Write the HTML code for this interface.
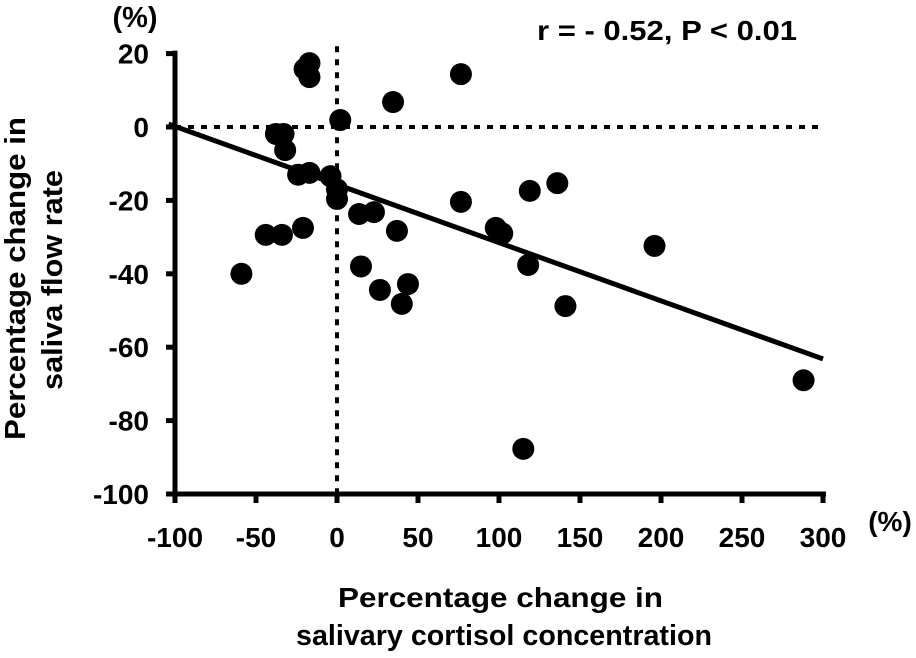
<!DOCTYPE html>
<html><head><meta charset="utf-8"><style>
body{margin:0;background:#fff}
text{font-family:"Liberation Sans",Arial,sans-serif;font-weight:bold;fill:#000}
</style></head><body>
<svg width="916" height="653" id="c">
<text x="135" y="27" font-size="29" text-anchor="middle">(%)</text>
<text x="890" y="531" font-size="28" text-anchor="middle">(%)</text>
<text x="537" y="40" font-size="28" textLength="260" lengthAdjust="spacingAndGlyphs">r = - 0.52, P &lt; 0.01</text>
<text x="338" y="607" font-size="28" textLength="325" lengthAdjust="spacingAndGlyphs">Percentage change in</text>
<text x="296" y="645" font-size="29" textLength="416" lengthAdjust="spacingAndGlyphs">salivary cortisol concentration</text>
<text transform="translate(25,440) rotate(-90)" font-size="29" textLength="323" lengthAdjust="spacingAndGlyphs">Percentage change in</text>
<text transform="translate(62,390) rotate(-90)" font-size="29" textLength="220" lengthAdjust="spacingAndGlyphs">saliva flow rate</text>
</svg>
<script>
const xTicks=[-100,-50,0,50,100,150,200,250,300];
const yTicks=[20,0,-20,-40,-60,-80,-100];
const xs=[-17,-20,-17,34.6,2,76.5,-37.7,-33,-32,-24,-17,-4,0,0,-21,-44,-34,-59,13.6,22.8,37,14.8,26.5,43.8,40,76.5,98,102,119,136,118,141,196,288,115];
const ys=[17.4,15.8,13.6,6.8,1.9,14.4,-1.9,-1.9,-6.3,-13,-12.5,-13.4,-17,-19.6,-27.5,-29.4,-29.4,-40,-23.7,-23.2,-28.3,-38,-44.4,-42.8,-48.2,-20.4,-27.5,-29,-17.4,-15.3,-37.6,-48.8,-32.4,-69,-87.7];
const fitX=[-104,300];
const fitY=[0.8,-63.2];
const NS="http://www.w3.org/2000/svg";
const svg=document.getElementById('c');
const X=v=>337+(v)*1.62;
const Y=v=>127-(v)*3.67;
function mk(t,a){const e=document.createElementNS(NS,t);for(const k in a)e.setAttribute(k,a[k]);svg.appendChild(e);return e;}
let e;
e=mk('line',{x1:X(-100),y1:Y(0),x2:X(300),y2:Y(0),stroke:'#000','stroke-width':4,'stroke-dasharray':'6 7'});


e=mk('line',{x1:X(0),y1:Y(22),x2:X(0),y2:Y(-100),stroke:'#000','stroke-width':4,'stroke-dasharray':'6 7'});


e=mk('line',{x1:X(-100),y1:Y(20)-3,x2:X(-100),y2:Y(-100)+2,stroke:'#000','stroke-width':5});


e=mk('line',{x1:X(-100)-2,y1:Y(-100),x2:X(300)+3,y2:Y(-100),stroke:'#000','stroke-width':5});


xTicks.forEach(t=>{
 e=mk('line',{x1:X(t),y1:Y(-100),x2:X(t),y2:Y(-100)+9,stroke:'#000','stroke-width':5});
 
 
 e=mk('text',{x:X(t),y:547,'font-size':28,'text-anchor':'middle'});e.textContent=t;
 
 
});
yTicks.forEach(t=>{
 e=mk('line',{x1:X(-100)-9,y1:Y(t),x2:X(-100),y2:Y(t),stroke:'#000','stroke-width':5});
 
 
 e=mk('text',{x:X(-100)-26,y:Y(t)+10,'font-size':28,'text-anchor':'end'});e.textContent=t;
 
 
});
e=mk('line',{x1:X(fitX[0]),y1:Y(fitY[0]),x2:X(fitX[1]),y2:Y(fitY[1]),stroke:'#000','stroke-width':5});


xs.forEach((v,i)=>{
 e=mk('circle',{cx:X(v),cy:Y(ys[i]),r:11,fill:'#000'});
 
 
});
</script>
</body></html>
